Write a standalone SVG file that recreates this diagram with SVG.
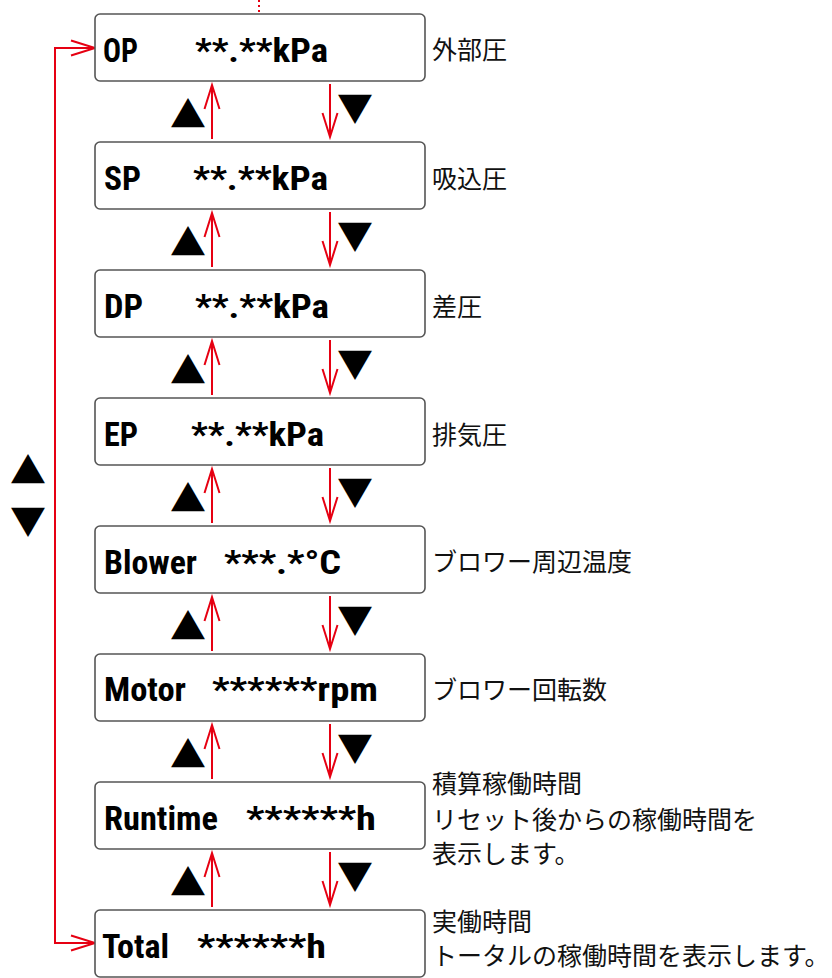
<svg xmlns="http://www.w3.org/2000/svg" width="832" height="978" viewBox="0 0 832 978">
<style>
.box{fill:#fff;stroke:#555;stroke-width:1.6}
.t{font-family:"Liberation Sans Narrow","Roboto Condensed","Liberation Sans",sans-serif;font-weight:bold;font-size:33px;fill:#000}
.lab{font-family:"Noto Sans CJK JP",sans-serif;font-size:25px;fill:#111}
.tri{font-family:"Noto Sans CJK JP",sans-serif;font-size:36px;fill:#000;text-anchor:middle}
.ar{fill:none;stroke:#e60012;stroke-width:2}
</style>
<defs>
<marker id="ah" markerUnits="userSpaceOnUse" viewBox="-26 -10 28 20" refX="0" refY="0" markerWidth="28" markerHeight="20" orient="auto-start-reverse" overflow="visible">
<path d="M-24,-7.5 L0,0 L-24,7.5" fill="none" stroke="#e60012" stroke-width="2"/>
</marker>
</defs>
<g id="connectors">
<path d="M259,0 V13" fill="none" stroke="#e60012" stroke-width="2" stroke-dasharray="2,3"/>
<path class="ar" d="M95,48 H55 V943 H95" marker-start="url(#ah)" marker-end="url(#ah)"/>
<path class="ar" d="M212,139 V85" marker-end="url(#ah)"/>
<path class="ar" d="M330,84 V137" marker-end="url(#ah)"/>
<path class="ar" d="M212,267 V213" marker-end="url(#ah)"/>
<path class="ar" d="M330,212 V265" marker-end="url(#ah)"/>
<path class="ar" d="M212,395 V341" marker-end="url(#ah)"/>
<path class="ar" d="M330,340 V393" marker-end="url(#ah)"/>
<path class="ar" d="M212,523 V469" marker-end="url(#ah)"/>
<path class="ar" d="M330,468 V521" marker-end="url(#ah)"/>
<path class="ar" d="M212,651 V597" marker-end="url(#ah)"/>
<path class="ar" d="M330,596 V649" marker-end="url(#ah)"/>
<path class="ar" d="M212,779 V725" marker-end="url(#ah)"/>
<path class="ar" d="M330,724 V777" marker-end="url(#ah)"/>
<path class="ar" d="M212,907 V853" marker-end="url(#ah)"/>
<path class="ar" d="M330,852 V905" marker-end="url(#ah)"/>
</g>
<g id="triangles">
<text class="tri" x="188" y="128">▲</text><text class="tri" x="355" y="122">▼</text>
<text class="tri" x="188" y="256">▲</text><text class="tri" x="355" y="250">▼</text>
<text class="tri" x="188" y="384">▲</text><text class="tri" x="355" y="378">▼</text>
<text class="tri" x="188" y="512">▲</text><text class="tri" x="355" y="506">▼</text>
<text class="tri" x="188" y="640">▲</text><text class="tri" x="355" y="634">▼</text>
<text class="tri" x="188" y="768">▲</text><text class="tri" x="355" y="762">▼</text>
<text class="tri" x="188" y="896">▲</text><text class="tri" x="355" y="890">▼</text>
<text class="tri" x="28" y="484">▲</text><text class="tri" x="28" y="535">▼</text>
</g>
<g id="op">
<rect class="box" x="95" y="14" width="330" height="67" rx="5"/>
<text class="t" x="103" y="62" textLength="35" lengthAdjust="spacingAndGlyphs">OP</text>
<text class="t" x="195" y="62" textLength="133" lengthAdjust="spacingAndGlyphs">**.**kPa</text>
<text class="lab" x="432" y="59">外部圧</text>
</g>
<g id="sp">
<rect class="box" x="95" y="142" width="330" height="67" rx="5"/>
<text class="t" x="104" y="190" textLength="37" lengthAdjust="spacingAndGlyphs">SP</text>
<text class="t" x="193" y="190" textLength="135" lengthAdjust="spacingAndGlyphs">**.**kPa</text>
<text class="lab" x="432" y="188">吸込圧</text>
</g>
<g id="dp">
<rect class="box" x="95" y="270" width="330" height="67" rx="5"/>
<text class="t" x="104" y="318" textLength="39" lengthAdjust="spacingAndGlyphs">DP</text>
<text class="t" x="195" y="318" textLength="134" lengthAdjust="spacingAndGlyphs">**.**kPa</text>
<text class="lab" x="432" y="316">差圧</text>
</g>
<g id="ep">
<rect class="box" x="95" y="398" width="330" height="67" rx="5"/>
<text class="t" x="104" y="446" textLength="34" lengthAdjust="spacingAndGlyphs">EP</text>
<text class="t" x="191" y="446" textLength="133" lengthAdjust="spacingAndGlyphs">**.**kPa</text>
<text class="lab" x="432" y="444">排気圧</text>
</g>
<g id="blower">
<rect class="box" x="95" y="526" width="330" height="67" rx="5"/>
<text class="t" x="104" y="574" textLength="93" lengthAdjust="spacingAndGlyphs">Blower</text>
<text class="t" x="224" y="574" textLength="117" lengthAdjust="spacingAndGlyphs">***.*°C</text>
<text class="lab" x="432" y="571">ブロワー周辺温度</text>
</g>
<g id="motor">
<rect class="box" x="95" y="654" width="330" height="67" rx="5"/>
<text class="t" x="104" y="701" textLength="82" lengthAdjust="spacingAndGlyphs">Motor</text>
<text class="t" x="212" y="701" textLength="166" lengthAdjust="spacingAndGlyphs">******rpm</text>
<text class="lab" x="432" y="699">ブロワー回転数</text>
</g>
<g id="runtime">
<rect class="box" x="95" y="782" width="330" height="67" rx="5"/>
<text class="t" x="104" y="830" textLength="114" lengthAdjust="spacingAndGlyphs">Runtime</text>
<text class="t" x="246" y="830" textLength="130" lengthAdjust="spacingAndGlyphs">******h</text>
<text class="lab" x="432" y="793">積算稼働時間</text>
<text class="lab" x="432" y="829">リセット後からの稼働時間を</text>
<text class="lab" x="432" y="863">表示します。</text>
</g>
<g id="total">
<rect class="box" x="95" y="910" width="330" height="67" rx="5"/>
<text class="t" x="102" y="958" textLength="67" lengthAdjust="spacingAndGlyphs">Total</text>
<text class="t" x="197" y="958" textLength="129" lengthAdjust="spacingAndGlyphs">******h</text>
<text class="lab" x="432" y="931">実働時間</text>
<text class="lab" x="432" y="965">トータルの稼働時間を表示します。</text>
</g>
</svg>
